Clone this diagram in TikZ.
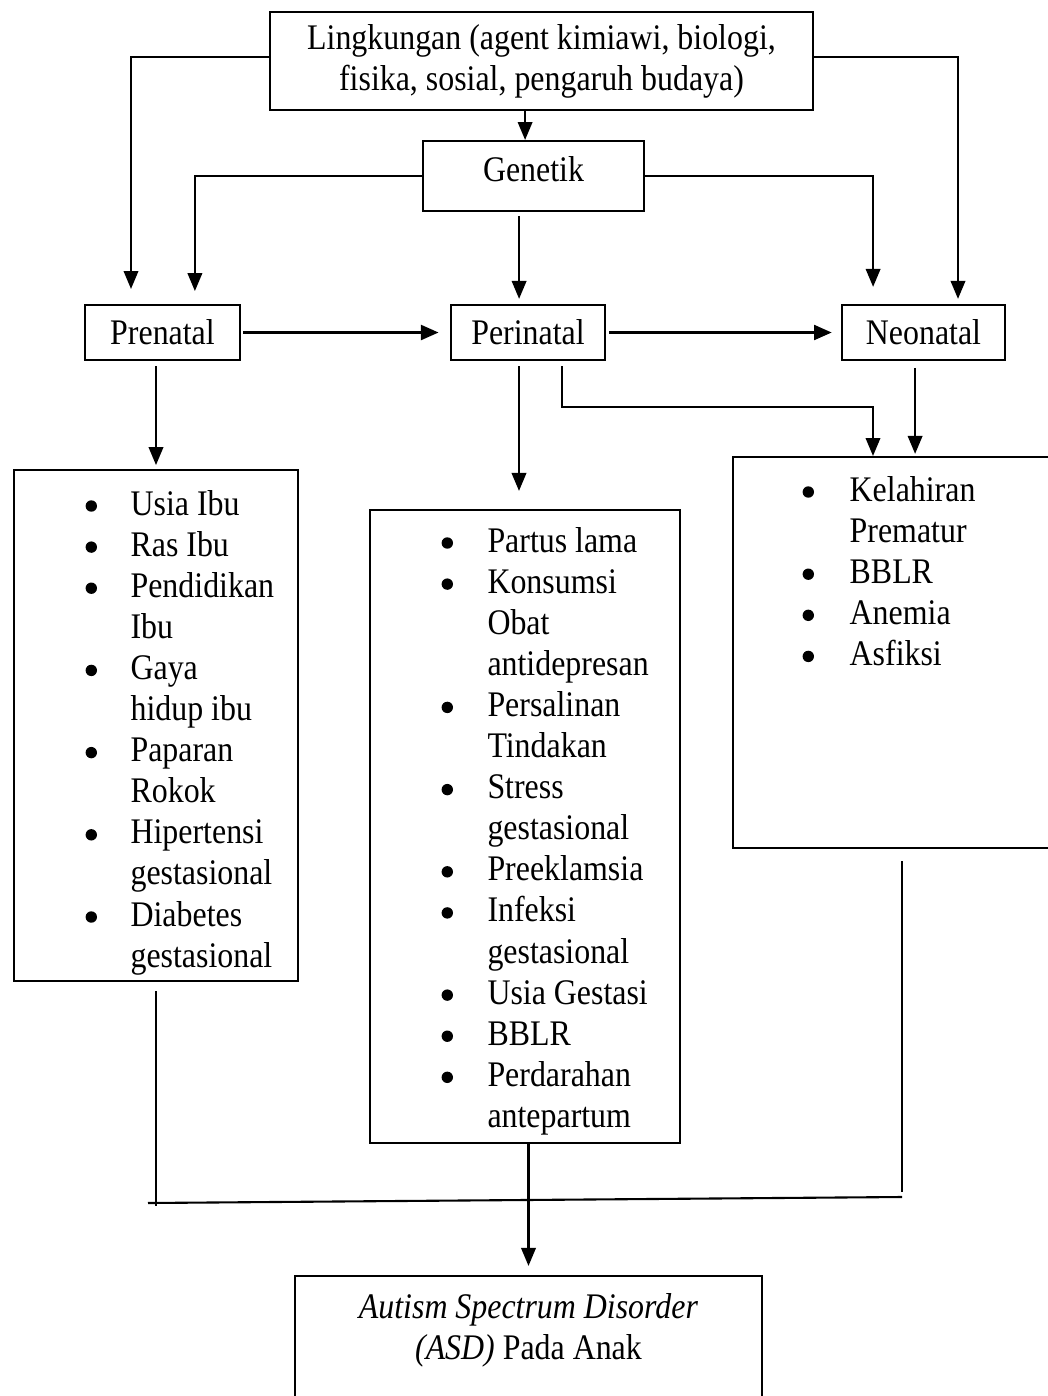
\documentclass[tikz,border=0pt]{standalone}
\usepackage{fontspec}
\setmainfont{Liberation Serif}[FakeStretch=0.886]
\usepackage{tikz}
\usetikzlibrary{arrows.meta}
\newcommand{\listdot}{\tikz[baseline=-3pt]\fill (1.9pt,0) circle (1.9pt);}
\tikzset{
  box/.style = {draw, line width=0.7pt, inner sep=0pt, align=center,
    font=\fontsize{12}{13.7}\selectfont},
  listtext/.style = {inner sep=0pt, font=\fontsize{12}{13.7}\selectfont},
  line/.style = {line width=0.7pt},
  arr/.style = {line width=0.8pt, -{Triangle[length=6pt,width=4.8pt]}}
}

\begin{document}
\begin{tikzpicture}[x=0.33333pt,y=-0.33333pt]
  \useasboundingbox (0,0) rectangle (1048,1396);

  \node[box, minimum width=181pt, minimum height=32.7pt] (ling) at (541.5,61)
    {Lingkungan (agent kimiawi, biologi,\\fisika, sosial, pengaruh budaya)};
  \node[box, minimum width=73.7pt, minimum height=23.3pt, text height=8pt, text depth=4.6pt] (gen) at (533.5,176) {Genetik};

  \node[box, minimum width=51.7pt, minimum height=18.3pt] (pre) at (162.5,332.5) {Prenatal};
  \node[box, minimum width=51.3pt, minimum height=18.3pt] (peri) at (528,332.5) {Perinatal};
  \node[box, minimum width=54.3pt, minimum height=18.3pt] (neo) at (923.5,332.5) {Neonatal};

  \node[box, minimum width=94.7pt, minimum height=170.3pt] (prebox) at (156,725.5) {};
  \node[box, minimum width=103.3pt, minimum height=211pt] (midbox) at (525,826.5) {};
  \node[box, minimum width=109pt, minimum height=130.3pt] (neobox) at (896.5,652.5) {};
  \node[box, minimum width=155.7pt, minimum height=48pt] (asd) at (528.5,1348) {};

  \node[listtext, anchor=base west] (pretext) at (85,515) {\begin{tabular}[t]{@{}p{15pt}@{}l@{}}
    \listdot & Usia Ibu\\
    \listdot & Ras Ibu\\
    \listdot & Pendidikan\\
    & Ibu\\
    \listdot & Gaya\\
    & hidup ibu\\
    \listdot & Paparan\\
    & Rokok\\
    \listdot & Hipertensi\\
    & gestasional\\
    \listdot & Diabetes\\
    & gestasional
  \end{tabular}};
  \node[listtext, anchor=base west] (midtext) at (441,552) {\begin{tabular}[t]{@{}p{15.3pt}@{}l@{}}
    \listdot & Partus lama\\
    \listdot & Konsumsi\\
    & Obat\\
    & antidepresan\\
    \listdot & Persalinan\\
    & Tindakan\\
    \listdot & Stress\\
    & gestasional\\
    \listdot & Preeklamsia\\
    \listdot & Infeksi\\
    & gestasional\\
    \listdot & Usia Gestasi\\
    \listdot & BBLR\\
    \listdot & Perdarahan\\
    & antepartum
  \end{tabular}};
  \node[listtext, anchor=base west] (neotext) at (802,501) {\begin{tabular}[t]{@{}p{15.7pt}@{}l@{}}
    \listdot & Kelahiran\\
    & Prematur\\
    \listdot & BBLR\\
    \listdot & Anemia\\
    \listdot & Asfiksi
  \end{tabular}};
  \node[listtext, align=center] (asdtext) at (528.5,1330)
    {\textit{Autism Spectrum Disorder}\\\textit{(ASD)} Pada Anak};

  \draw[arr, shorten >=5pt] ([yshift=1.3pt]ling.west) -| ([xshift=-10.5pt]pre.north);
  \draw[arr, shorten >=1.7pt] ([yshift=1.3pt]ling.east) -| ([xshift=11.5pt]neo.north);
  \draw[arr] ([xshift=-2.8pt]gen.north |- ling.south) -- ([xshift=-2.8pt]gen.north);
  \draw[arr, shorten >=4.3pt] (gen.west) -| ([xshift=10.8pt]pre.north);
  \draw[arr, shorten >=5.7pt] (gen.east) -| ([xshift=-16.8pt]neo.north);
  \draw[arr, shorten <=1.3pt, shorten >=1.7pt] ([xshift=-4.8pt]gen.south) -- ([xshift=-4.8pt]gen.south |- peri.north);

  \path[arr, line width=1.3pt, shorten <=0.7pt, shorten >=3.7pt] (pre) edge (peri);
  \path[arr, line width=1.3pt, shorten <=1pt, shorten >=3pt] (peri) edge (neo);

  \draw[arr, shorten <=1.7pt, shorten >=1.3pt] (pre.south -| prebox.north) -- (prebox.north);
  \draw[arr, shorten <=1.7pt, shorten >=6pt] ([xshift=-3pt]peri.south) -- ([xshift=-3pt]peri.south |- midbox.north);
  \coordinate (peribend) at (873,407);
  \draw[arr, shorten <=1.7pt] ([xshift=11.3pt]peri.south) |- (peribend) -- (peribend |- neobox.north);
  \draw[arr, shorten <=2.3pt, shorten >=0.7pt] ([xshift=-2.8pt]neo.south) -- ([xshift=-2.8pt]neo.south |- neobox.north);

  \coordinate (joinL) at (148,1203);
  \coordinate (joinR) at (902,1197);
  \draw[line] ([yshift=-3pt]prebox.south) -- (prebox.south |- 0,1206);
  \draw[line] (joinL) -- (joinR);
  \draw[line] ([yshift=-4pt]joinR |- neobox.south) -- ([yshift=1.7pt]joinR);
  \draw[arr, shorten >=3pt] (asd.north |- midbox.south) -- (asd.north);
\end{tikzpicture}
\end{document}
